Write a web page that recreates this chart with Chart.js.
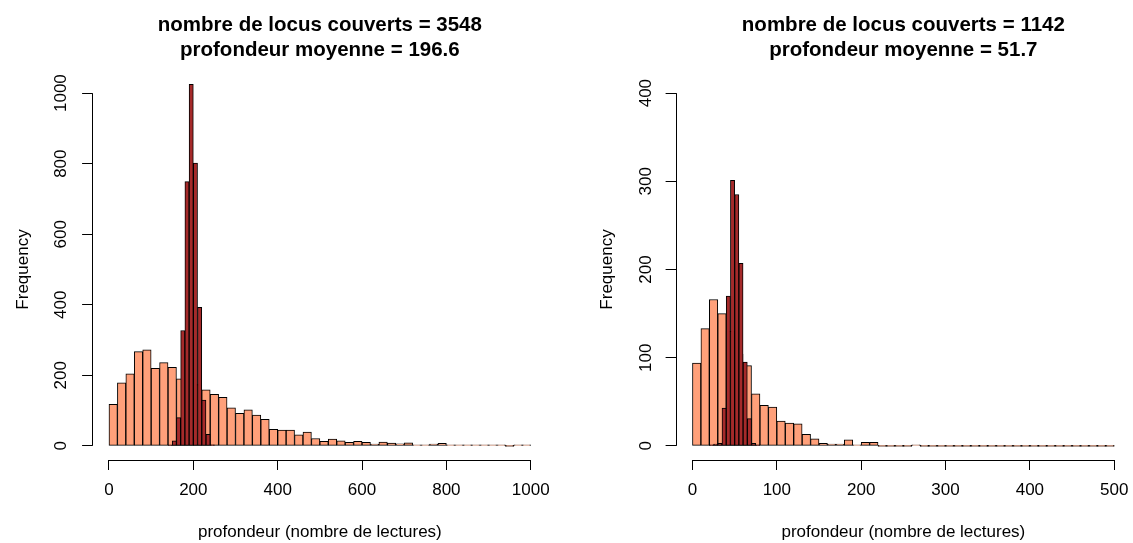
<!DOCTYPE html>
<html lang="fr">
<head>
<meta charset="UTF-8">
<title>Profondeur de couverture</title>
<style>
  body { margin: 0; background: #fff; }
  .panneau { position: absolute; top: 0; height: 543px; }
  #gauche { left: 0; width: 566px; }
  #droite { left: 566px; width: 567px; }
</style>
</head>
<body>
<div class="panneau" id="gauche"><canvas id="histoGauche"></canvas></div>
<div class="panneau" id="droite"><canvas id="histoDroite"></canvas></div>

<script src="https://cdn.jsdelivr.net/npm/chart.js"></script>
<script>
// ---- valeurs ----
const titreGauche = ['nombre de locus couverts = 3548', 'profondeur moyenne = 196.6'];
const titreDroite = ['nombre de locus couverts = 1142', 'profondeur moyenne = 51.7'];

// profondeur observée, classes de 20 (gauche) et de 10 (droite)
const debutObsGauche = 0, pasObsGauche = 20;
const obsGauche = [118, 179, 204, 267, 272, 220, 236, 223, 190, 185,
                   174, 159, 146, 138, 108, 92, 102, 87, 75, 47,
                   45, 45, 31, 39, 21, 13, 19, 14, 10, 13,
                   10, 5, 11, 8, 6, 9, 3, 1, 5, 7,
                   1, 2, 1, 1, 2, 1, 1, 0, 1, 1];
const debutObsDroite = 0, pasObsDroite = 10;
const obsDroite = [94, 133, 166, 150, 130, 104, 91, 59, 46, 44,
                   28, 26, 25, 13, 8, 3, 2, 2, 7, 1,
                   4, 4, 0, 0, 0, 0, 1, 0, 0, 0,
                   0, 0, 0, 0, 0, 0, 0, 0, 0, 0,
                   0, 0, 0, 0, 0, 0, 0, 0, 0, 0];

// distribution attendue autour de la moyenne (barres foncées)
const debutSimGauche = 140, pasSimGauche = 10;
const simGauche = [1, 14, 80, 327, 749, 1025, 802, 393, 130, 33, 3];
const debutSimDroite = 20, pasSimDroite = 5;
const simDroite = [1, 2, 3, 43, 170, 301, 285, 207, 95, 31, 3, 1];

const ticksXGauche = [0, 200, 400, 600, 800, 1000];
const ticksYGauche = [0, 200, 400, 600, 800, 1000];
const ticksXDroite = [0, 100, 200, 300, 400, 500];
const ticksYDroite = [0, 100, 200, 300, 400];

const titreX = 'profondeur (nombre de lectures)';
const titreY = 'Frequency';

// ---- mise en forme ----
const police = '"Liberation Sans", Arial, sans-serif';
const texte = { family: police, size: 17 };
const saumon = '#FFA07A';
const brique = '#A52A2A';

function enPoints(debut, pas, valeurs) {
    return valeurs.map((v, i) => ({ x: debut + pas * (i + 0.5), y: v }));
}

// axes façon R : le trait ne va que du premier au dernier tick
const axesR = {
    id: 'axesR',
    afterDraw(chart) {
        const { ctx, chartArea, scales } = chart;
        const tx = scales.x.ticks, ty = scales.y.ticks;
        const yb = Math.round(chartArea.bottom) + 0.5;
        const xl = Math.round(chartArea.left) + 0.5;
        ctx.save();
        ctx.strokeStyle = '#000';
        ctx.lineWidth = 1;
        ctx.beginPath();
        ctx.moveTo(scales.x.getPixelForValue(tx[0].value), yb);
        ctx.lineTo(scales.x.getPixelForValue(tx[tx.length - 1].value), yb);
        ctx.moveTo(xl, scales.y.getPixelForValue(ty[0].value));
        ctx.lineTo(xl, scales.y.getPixelForValue(ty[ty.length - 1].value));
        ctx.stroke();
        ctx.restore();
    }
};

// ordre : la série foncée passe par-dessus la saumon
function barres(points, axe, couleur, mini, ordre) {
    return {
        data: points,
        xAxisID: axe,
        order: ordre,
        backgroundColor: couleur,
        borderColor: '#000',
        borderWidth: 1,
        borderSkipped: false,
        minBarLength: mini,
        barPercentage: 1,
        categoryPercentage: 1,
        grouped: false
    };
}

function tracer(id, p) {
    new Chart(document.getElementById(id), {
        type: 'bar',
        data: {
            datasets: [
                barres(p.obs, 'x', saumon, 1, 2),
                barres(p.sim, 'x2', brique, 0, 1)
            ]
        },
        options: {
            responsive: true,
            maintainAspectRatio: false,
            animation: false,
            layout: { padding: { left: 0, right: p.margeDroite, top: 0, bottom: 0 } },
            plugins: {
                legend: { display: false },
                tooltip: { enabled: false },
                title: {
                    display: true,
                    fullSize: false,
                    text: p.titre,
                    color: '#000',
                    font: { family: police, size: 20.5, weight: 'bold', lineHeight: '25px' },
                    padding: { top: 12.5, bottom: 16.5 }
                }
            },
            scales: {
                x: {
                    type: 'linear',
                    position: 'bottom',
                    min: p.xMin, max: p.xMax,
                    offset: false,
                    afterBuildTicks: s => { s.ticks = p.ticksX.map(v => ({ value: v })); },
                    afterFit: s => { s.height = 83; s.paddingLeft = 0; s.paddingRight = 0; },
                    grid: { offset: false, drawOnChartArea: false, tickLength: 10, color: '#000' },
                    border: { display: false },
                    ticks: { font: texte, color: '#000', padding: 10, maxRotation: 0, autoSkip: false, callback: v => String(v) },
                    title: { display: true, text: titreX, font: texte, color: '#000', padding: { top: 0, bottom: 0 } }
                },
                x2: {
                    type: 'linear',
                    position: 'bottom',
                    display: false,
                    min: p.xMin, max: p.xMax,
                    offset: false,
                    grid: { offset: false }
                },
                y: {
                    type: 'linear',
                    min: p.yMin, max: p.yMax,
                    afterBuildTicks: s => { s.ticks = p.ticksY.map(v => ({ value: v })); },
                    afterFit: s => { s.width = p.largeurY; s.paddingTop = 0; s.paddingBottom = 0; },
                    grid: { drawOnChartArea: false, tickLength: 10, color: '#000' },
                    border: { display: false },
                    ticks: { font: texte, color: '#000', padding: p.padTicksY, minRotation: 90, maxRotation: 90, crossAlign: 'center', autoSkip: false, callback: v => String(v) },
                    title: { display: true, text: titreY, font: texte, color: '#000', padding: { top: p.padTitreY, bottom: 0 } }
                }
            }
        },
        plugins: [axesR]
    });
}

tracer('histoGauche', {
    titre: titreGauche,
    obs: enPoints(debutObsGauche, pasObsGauche, obsGauche),
    sim: enPoints(debutSimGauche, pasSimGauche, simGauche),
    ticksX: ticksXGauche, ticksY: ticksYGauche,
    xMin: -40, xMax: 1040, yMin: -40, yMax: 1040,
    largeurY: 92.1, margeDroite: 18.4, padTicksY: 1.5, padTitreY: 12.8
});

tracer('histoDroite', {
    titre: titreDroite,
    obs: enPoints(debutObsDroite, pasObsDroite, obsDroite),
    sim: enPoints(debutSimDroite, pasSimDroite, simDroite),
    ticksX: ticksXDroite, ticksY: ticksYDroite,
    xMin: -20, xMax: 520, yMin: -16, yMax: 416,
    largeurY: 109.6, margeDroite: 1.9, padTicksY: 4.7, padTitreY: 30.8
});
</script>
</body>
</html>
